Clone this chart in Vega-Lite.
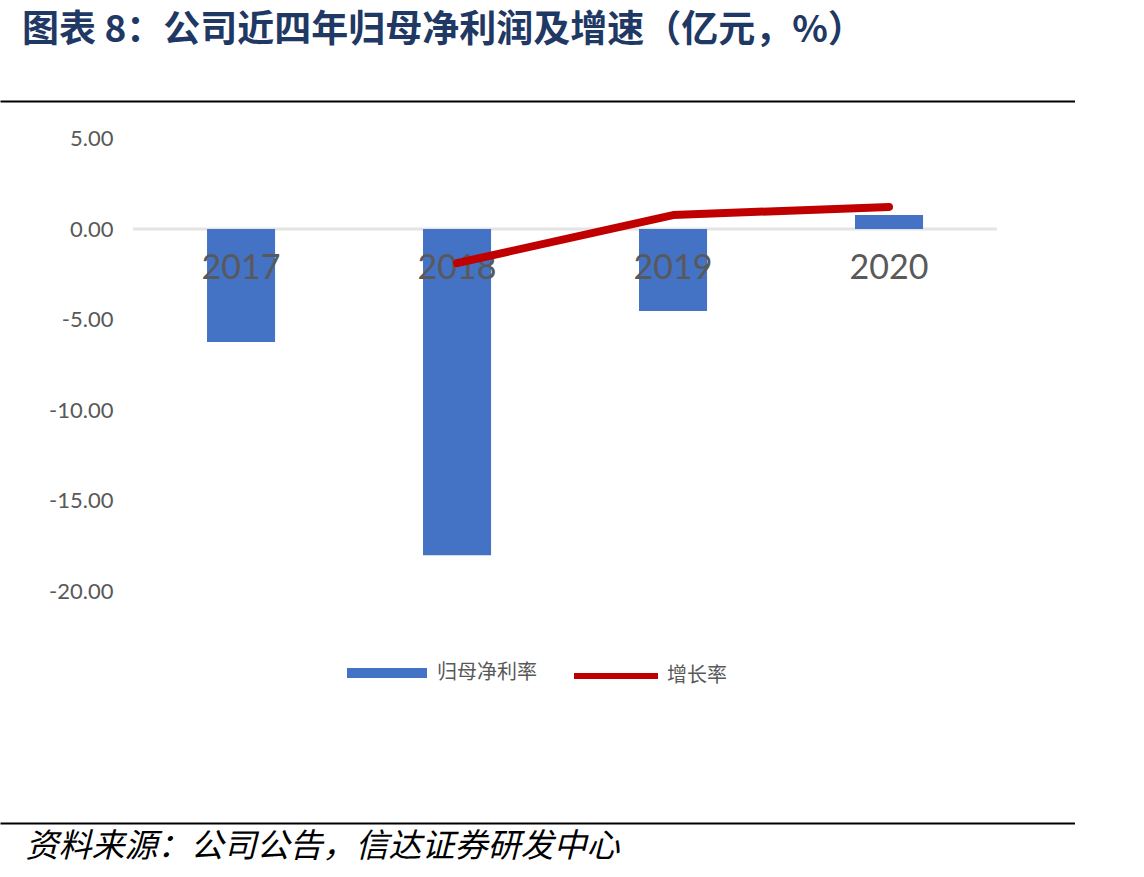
{
  "$schema": "https://vega.github.io/schema/vega-lite/v6.json",
  "width": 1075,
  "height": 722,
  "padding": {"left": 0, "top": 12, "right": 0, "bottom": 10},
  "background": "white",
  "config": {"view": {"stroke": null}},
  "title": {
    "text": "图表 8：公司近四年归母净利润及增速（亿元，%）",
    "anchor": "start",
    "frame": "group",
    "font": "Noto Sans CJK SC",
    "fontSize": 37,
    "fontWeight": "bold",
    "color": "#1F3864",
    "dx": 22,
    "offset": 51
  },
  "data": {
    "values": [
      {"year": "2017", "profit": -6.24, "growth": null},
      {"year": "2018", "profit": -18.0, "growth": -1.88},
      {"year": "2019", "profit": -4.53, "growth": 0.77},
      {"year": "2020", "profit": 0.77, "growth": 1.22}
    ]
  },
  "layer": [
    {
      "mark": {"type": "tick", "color": "#d9d9d9", "size": 216, "thickness": 3},
      "encoding": {
        "x": {
          "field": "year", "type": "ordinal",
          "scale": {"paddingInner": 0.685, "paddingOuter": 0.831, "align": 0.5767},
          "axis": {"orient": "top", "labels": false, "ticks": false, "domain": true, "domainColor": "#000000", "domainWidth": 2, "title": null, "grid": false}
        },
        "y": {"datum": 0, "type": "quantitative", "scale": {"domain": [-32.78, 7.064], "nice": false, "zero": false}, "axis": null}
      }
    },
    {
      "mark": {"type": "bar"},
      "encoding": {
        "x": {
          "field": "year", "type": "ordinal",
          "axis": {
            "orient": "bottom", "labels": false, "ticks": false, "domain": true, "domainColor": "#000000", "domainWidth": 2, "grid": false,
            "title": "资料来源：公司公告，信达证券研发中心",
            "titleFont": "Noto Sans CJK SC", "titleFontSize": 33, "titleFontWeight": "normal", "titleFontStyle": "italic",
            "titleColor": "#000000", "titleAnchor": "start", "titleAlign": "left", "titleX": 25, "titlePadding": 7
          }
        },
        "y": {
          "field": "profit", "type": "quantitative",
          "axis": {
            "values": [5, 0, -5, -10, -15, -20],
            "labelExpr": "(datum.value < 0 ? '-' : '') + format(abs(datum.value), '.2f')",
            "grid": false, "domain": false, "ticks": false, "tickSize": 0,
            "offset": -120, "labelPadding": 7,
            "labelFont": "Lato", "labelFontSize": 22, "labelColor": "#595959", "title": null
          }
        },
        "fill": {
          "datum": "归母净利率",
          "scale": {"range": ["#4472C4"]},
          "legend": {
            "orient": "none", "legendX": 347, "legendY": 532, "title": null, "padding": 0,
            "symbolType": "M-1,-0.125H1V0.125H-1Z", "symbolSize": 6400, "symbolStrokeWidth": 0,
            "labelFont": "Noto Sans CJK SC", "labelFontSize": 20, "labelColor": "#595959", "labelOffset": 10
          }
        }
      }
    },
    {
      "mark": {"type": "text", "font": "Lato", "fontSize": 34, "color": "#595959", "dy": 40, "baseline": "middle"},
      "encoding": {
        "x": {"field": "year", "type": "ordinal", "axis": null},
        "y": {"datum": 0, "type": "quantitative", "axis": null},
        "text": {"field": "year"}
      }
    },
    {
      "mark": {"type": "line", "strokeWidth": 8, "strokeCap": "round", "strokeJoin": "round"},
      "encoding": {
        "x": {"field": "year", "type": "ordinal", "axis": null},
        "y": {"field": "growth", "type": "quantitative", "axis": null},
        "stroke": {
          "datum": "增长率",
          "scale": {"range": ["#C00000"]},
          "legend": {
            "orient": "none", "legendX": 571, "legendY": 530, "title": null, "padding": 0,
            "symbolType": "M-1,0H1", "symbolSize": 7056, "symbolStrokeWidth": 6,
            "labelFont": "Noto Sans CJK SC", "labelFontSize": 20, "labelColor": "#595959", "labelOffset": 6
          }
        }
      }
    }
  ],
  "resolve": {"axis": {"x": "independent", "y": "independent"}}
}
